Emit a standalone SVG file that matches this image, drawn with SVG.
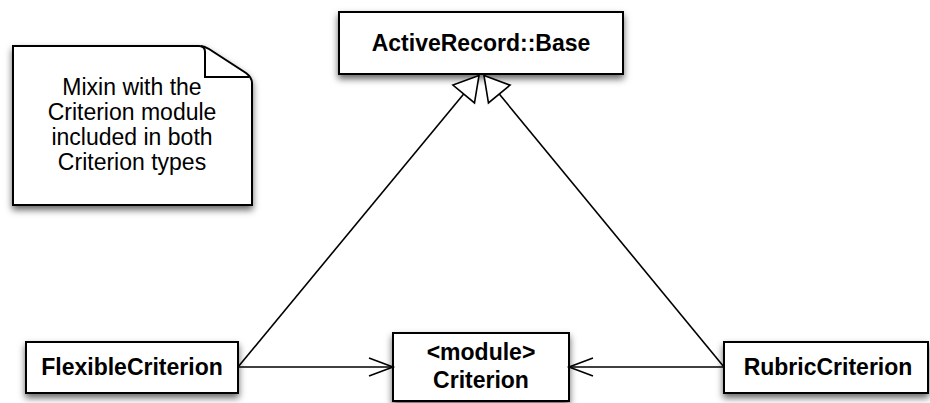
<svg xmlns="http://www.w3.org/2000/svg" width="930" height="403" viewBox="0 0 930 403">
<defs>
<filter id="sh" x="-20%" y="-20%" width="140%" height="160%">
<feDropShadow dx="0" dy="4" stdDeviation="3.5" flood-color="#000" flood-opacity="0.6"/>
</filter>
<marker id="tri" markerUnits="userSpaceOnUse" markerWidth="30" markerHeight="30" refX="26" refY="15" orient="auto" overflow="visible">
<path d="M26,15 L2,1 L2,29 Z" fill="#fff" stroke="#000" stroke-width="1.6" stroke-linejoin="miter"/>
</marker>
<marker id="open" markerUnits="userSpaceOnUse" markerWidth="30" markerHeight="22" refX="26" refY="11" orient="auto" overflow="visible">
<path d="M2,2 L26,11 L2,20" fill="none" stroke="#000" stroke-width="1.6"/>
</marker>
</defs>
<style>
.box{fill:#fff;stroke:#000;stroke-width:2;filter:url(#sh)}
.lbl{font-family:"Liberation Sans",Arial,sans-serif;font-weight:bold;font-size:23px;fill:#000;text-anchor:middle}
.note{font-family:"Liberation Sans",Arial,sans-serif;font-size:23px;fill:#000;text-anchor:middle}
.edge{stroke:#000;stroke-width:1.6;fill:none}
</style>
<rect width="930" height="403" fill="#fff"/>
<g id="note">
<path class="box" d="M13,46 H199 C203,46 206,47 209,49 L246,73 C250,76 252,79 252,83 V205 H13 Z"/>
<path d="M201,46 C204,47 205,49 205,52 V77 H249" fill="none" stroke="#000" stroke-width="2"/>
<text class="note" x="132" y="95">Mixin with the</text>
<text class="note" x="132" y="120">Criterion module</text>
<text class="note" x="132" y="145">included in both</text>
<text class="note" x="132" y="170">Criterion types</text>
</g>
<g id="activerecord">
<rect class="box" x="339" y="12" width="284" height="62"/>
<text class="lbl" x="481" y="51">ActiveRecord::Base</text>
</g>
<g id="flexible">
<rect class="box" x="26" y="342" width="212" height="51"/>
<text class="lbl" x="132" y="375">FlexibleCriterion</text>
</g>
<g id="criterion">
<rect class="box" x="393" y="333" width="176" height="68"/>
<text class="lbl" x="481" y="360">&lt;module&gt;</text>
<text class="lbl" x="481" y="388">Criterion</text>
</g>
<g id="rubric">
<rect class="box" x="724" y="342" width="204" height="51"/>
<text class="lbl" x="828" y="375">RubricCriterion</text>
</g>
<g id="connectors">
<line class="edge" x1="238" y1="367" x2="479" y2="75.5" marker-end="url(#tri)"/>
<line class="edge" x1="724" y1="367" x2="484" y2="75.5" marker-end="url(#tri)"/>
<line class="edge" x1="238" y1="367" x2="393" y2="367" marker-end="url(#open)"/>
<line class="edge" x1="724" y1="367" x2="569" y2="367" marker-end="url(#open)"/>
</g>
</svg>
